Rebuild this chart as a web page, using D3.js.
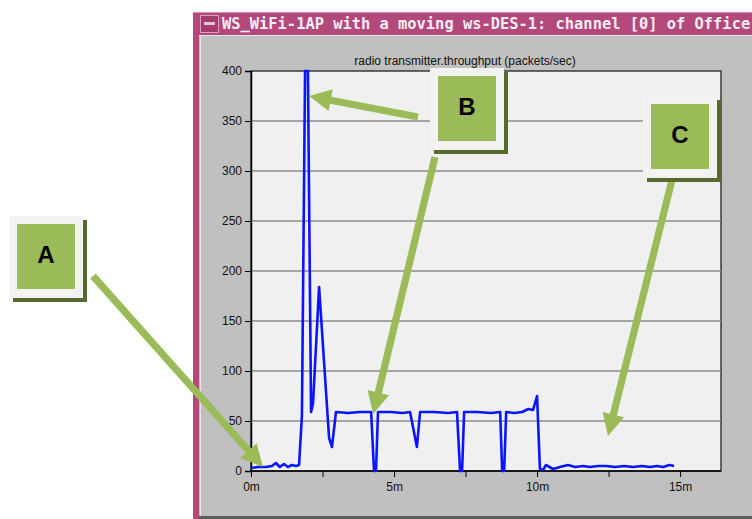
<!DOCTYPE html>
<html>
<head>
<meta charset="utf-8">
<script src="https://cdn.jsdelivr.net/npm/d3@7/dist/d3.min.js"></script>
<style>
  html, body { margin: 0; padding: 0; background: #ffffff; }
  svg { display: block; }
</style>
</head>
<body>
<svg id="chart" width="752" height="519"></svg>
<script>
// Throughput samples: time in minutes, packets/sec
const times = [0.00, 0.25, 0.52, 0.73, 0.87, 1.01, 1.15, 1.29, 1.43, 1.57, 1.68, 1.78, 1.89, 1.99,
  2.10, 2.17, 2.38, 2.73, 2.83, 2.97, 3.40, 3.80, 4.20, 4.30, 4.37, 4.44, 4.90, 5.30, 5.56, 5.80,
  5.91, 6.40, 6.90, 7.20, 7.31, 7.38, 7.45, 7.90, 8.40, 8.71, 8.78, 8.85, 8.92, 9.20, 9.48, 9.69,
  9.86, 10.00, 10.10, 10.21, 10.31, 10.56, 10.80, 11.08, 11.33, 11.61, 11.85, 12.13, 12.41, 12.73,
  13.04, 13.36, 13.67, 13.95, 14.20, 14.41, 14.62, 14.79];
const throughput = [3, 4, 4, 5, 8, 4, 7, 4, 6, 5, 6, 55, 400, 400,
  59, 68, 184, 33, 24, 59, 58, 59, 59, 0, 0, 59, 59, 58, 59, 24,
  59, 59, 58, 59, 0, 0, 59, 59, 58, 59, 0, 0, 59, 58, 59, 62,
  61, 75, 2, 1, 6, 2, 4, 6, 4, 5, 4, 5, 5, 4,
  5, 4, 5, 4, 5, 4, 6, 5];

const yTicks = [0, 50, 100, 150, 200, 250, 300, 350, 400];
const xMajorTicks = [0, 5, 10, 15];
const xMinorTicks = [2.5, 7.5, 12.5];
const xTickLabels = ["0m", "5m", "10m", "15m"];

const windowTitle = "WS_WiFi-1AP with a moving ws-DES-1: channel [0] of Office";
const chartTitle = "radio transmitter.throughput (packets/sec)";

// Callouts: label, box position, arrows (start in page px, tip in data units)
const callouts = [
  { label: "A", box: [9, 216], arrows: [{ from: [93, 276], to: [0.42, 4] }] },
  { label: "B", box: [430, 68], arrows: [{ from: [418, 117], to: [2.03, 375] },
                                         { from: [435, 157], to: [4.27, 57] }] },
  { label: "C", box: [643, 96], arrows: [{ from: [672, 180], to: [12.48, 35] }] }
];

const svg = d3.select("#chart");

// ---- window frame ----
const frameColor = "#b3487b";
svg.append("rect").attr("x", 193).attr("y", 12).attr("width", 559).attr("height", 507).attr("fill", frameColor);
svg.append("rect").attr("x", 199).attr("y", 35).attr("width", 553).attr("height", 482).attr("fill", "#c0c0c0");
svg.append("line").attr("x1", 199).attr("x2", 752).attr("y1", 35.5).attr("y2", 35.5).attr("stroke", "#e6e6e6");
svg.append("line").attr("x1", 200.5).attr("x2", 200.5).attr("y1", 36).attr("y2", 517).attr("stroke", "#e6e6e6");
svg.append("rect").attr("x", 199).attr("y", 516).attr("width", 553).attr("height", 3).attr("fill", "#5c5c5c");
svg.append("line").attr("x1", 193).attr("x2", 752).attr("y1", 12.5).attr("y2", 12.5).attr("stroke", "#d68fb0");
// minimize box
svg.append("rect").attr("x", 200.5).attr("y", 15.5).attr("width", 18).attr("height", 17)
  .attr("fill", "#a33d6d").attr("stroke", "#d9a0bb");
svg.append("rect").attr("x", 204).attr("y", 22).attr("width", 11).attr("height", 3).attr("fill", "#e8c5d6");
svg.append("text").attr("x", 222).attr("y", 29)
  .attr("font-family", "DejaVu Sans Mono").attr("font-weight", "bold").attr("font-size", 15.4)
  .attr("fill", "#f7eef3").text(windowTitle);

// ---- plot ----
const x = d3.scaleLinear().domain([0, 16.43]).range([251, 721]);
const y = d3.scaleLinear().domain([0, 400]).range([471, 71]);

svg.append("rect").attr("x", x(0)).attr("y", y(400)).attr("width", x(16.43) - x(0)).attr("height", y(0) - y(400))
  .attr("fill", "#f0f0f0").attr("stroke", "#3a3a3a").attr("stroke-width", 1.5);

// grid
svg.append("g").selectAll("line").data(yTicks.filter(v => v > 0 && v < 400)).join("line")
  .attr("x1", x(0)).attr("x2", x(16.43)).attr("y1", d => y(d)).attr("y2", d => y(d))
  .attr("stroke", "#8c8c8c").attr("stroke-width", 1.5);

svg.append("text").attr("x", 465).attr("y", 65).attr("text-anchor", "middle")
  .attr("font-family", "Liberation Sans, Arial").attr("font-size", 12).attr("fill", "#111")
  .text(chartTitle);

// y axis
const yAxis = d3.axisLeft(y).tickValues(yTicks).tickSize(6).tickPadding(3).tickFormat(d3.format("d"));
const gy = svg.append("g").attr("transform", `translate(${x(0)},0)`).call(yAxis);
gy.select(".domain").attr("stroke", "#000").attr("stroke-width", 1.5);
gy.selectAll(".tick line").attr("stroke", "#000");
gy.selectAll(".tick text").attr("font-family", "Liberation Sans, Arial").attr("font-size", 12).attr("fill", "#111");

// x axis (major labelled, minor unlabelled)
const xAxis = d3.axisBottom(x).tickValues(xMajorTicks).tickSize(6).tickPadding(5)
  .tickFormat((d, i) => xTickLabels[i]);
const gx = svg.append("g").attr("transform", `translate(0,${y(0)})`).call(xAxis);
gx.select(".domain").attr("stroke", "#000").attr("stroke-width", 1.5).attr("d", `M${x(0)},0H${x(16.43)}`);
gx.selectAll(".tick line").attr("stroke", "#000");
gx.selectAll(".tick text").attr("font-family", "Liberation Sans, Arial").attr("font-size", 12).attr("fill", "#111");
const gxm = svg.append("g").attr("transform", `translate(0,${y(0)})`)
  .call(d3.axisBottom(x).tickValues(xMinorTicks).tickSize(6).tickFormat(""));
gxm.select(".domain").remove();
gxm.selectAll(".tick line").attr("stroke", "#000");

// series line
const pts = times.map((t, i) => [t, throughput[i]]);
svg.append("path").datum(pts)
  .attr("d", d3.line().x(d => x(d[0])).y(d => y(d[1])))
  .attr("fill", "none").attr("stroke", "#0a14ff").attr("stroke-width", 2.6)
  .attr("stroke-linejoin", "round");

// ---- callouts ----
const green = "#9bbb59";
function arrow(g, x0, y0, x1, y1) {
  const dx = x1 - x0, dy = y1 - y0, len = Math.hypot(dx, dy);
  const ux = dx / len, uy = dy / len, nx = -uy, ny = ux;
  const headL = 22, headW = 11, shaft = 3.6;
  const bx = x1 - ux * headL, by = y1 - uy * headL;
  const p = [
    [x0 + nx * shaft, y0 + ny * shaft], [bx + nx * shaft, by + ny * shaft], [bx + nx * headW, by + ny * headW],
    [x1, y1], [bx - nx * headW, by - ny * headW], [bx - nx * shaft, by - ny * shaft], [x0 - nx * shaft, y0 - ny * shaft]
  ];
  g.append("polygon").attr("points", p.map(q => q.join(",")).join(" ")).attr("fill", green);
}

callouts.forEach(c => {
  const g = svg.append("g");
  c.arrows.forEach(a => arrow(g, a.from[0], a.from[1], x(a.to[0]), y(a.to[1])));
  const [bx, by] = c.box;
  g.append("rect").attr("x", bx + 4).attr("y", by + 4).attr("width", 74).attr("height", 82).attr("fill", "#56692e");
  g.append("rect").attr("x", bx).attr("y", by).attr("width", 74).attr("height", 82).attr("fill", "#f2f2f2");
  g.append("rect").attr("x", bx + 8).attr("y", by + 8).attr("width", 58).attr("height", 65).attr("fill", green);
  g.append("text").attr("x", bx + 37).attr("y", by + 47).attr("text-anchor", "middle")
    .attr("font-family", "Liberation Sans, Arial").attr("font-weight", "bold").attr("font-size", 24)
    .attr("fill", "#000").text(c.label);
});
</script>
</body>
</html>
